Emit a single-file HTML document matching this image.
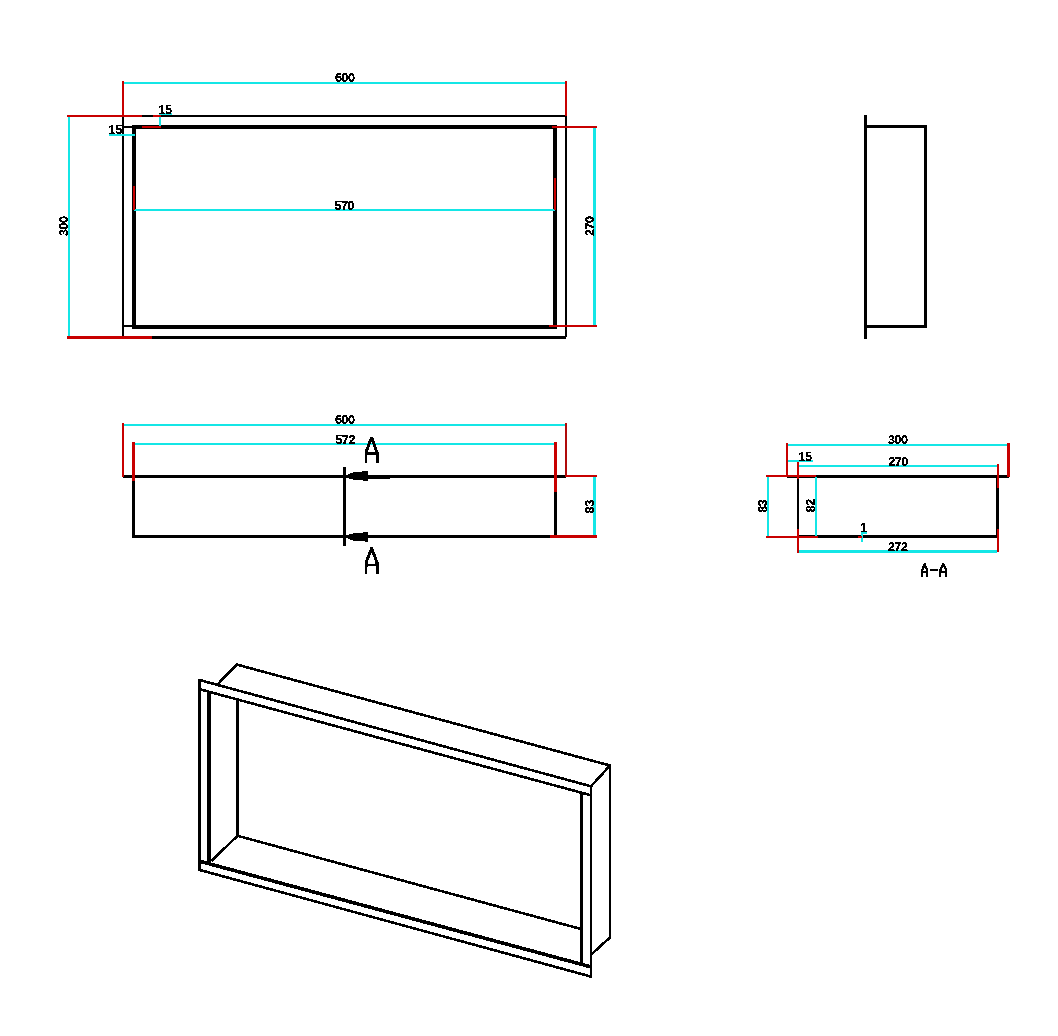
<!DOCTYPE html>
<html><head><meta charset="utf-8"><style>
html,body{margin:0;padding:0;background:#fff;width:1058px;height:1036px;overflow:hidden}
svg{display:block}
text{font-family:"Liberation Sans",sans-serif;font-weight:bold;font-size:12.5px;letter-spacing:-0.4px;fill:#000}
.k{stroke:#000;fill:none}
.r{stroke:#c80000;fill:none;stroke-width:2}
.c{stroke:#14e6e6;fill:none;stroke-width:2}
.ln{shape-rendering:crispEdges}
</style></head><body>
<svg width="1058" height="1036" viewBox="0 0 1058 1036">
<defs>
<filter id="bin" x="0" y="0" width="100%" height="100%" color-interpolation-filters="sRGB">
  <feComponentTransfer><feFuncA type="discrete" tableValues="0 1 1"/></feComponentTransfer>
</filter>
</defs>
<rect width="1058" height="1036" fill="#fff"/>

<g class="ln">
<!-- ============ FRONT VIEW ============ -->
<g class="k" stroke-width="2">
  <path d="M123,116 H566 V337 M123,116 V337"/>
  <path d="M123,127 H134 M123,326 H134 M555,127 H566 M555,326 H566"/>
</g>
<path class="k" stroke-width="2.5" d="M123,337.3 H566"/>
<path class="k" stroke-width="4" d="M134,127 H555 V327 H134 Z"/>
<g class="c">
  <path d="M123,83 H566"/>
  <path d="M69,116 V337.5"/>
  <path d="M594.5,127 V326" stroke-width="2.6"/>
  <path d="M134,210 H555"/>
  <path d="M159.5,113 V127"/>
  <path d="M158.5,113.5 H172"/>
  <path d="M109,134.5 H135"/>
</g>
<g class="r">
  <path d="M123,81 V116"/>
  <path d="M566,81 V116"/>
  <path d="M67,116 H142.3"/>
  <path d="M67,337.5 H152" stroke-width="2.6"/>
  <path d="M552,127 H597"/>
  <path d="M549,326 H597"/>
  <path d="M134,185.5 V210"/>
  <path d="M555,178 V210"/>
  <path d="M153,116 H160.5"/>
  <path d="M142,127 H160.5" stroke-width="1.6"/>
</g>

<!-- ============ SIDE VIEW ============ -->
<g class="k" stroke-width="2.6">
  <path d="M865.5,114.8 V338.7"/>
  <path d="M865.5,126.5 H925.5 V326.5 H865.5"/>
</g>

<!-- ============ TOP VIEW ============ -->
<g class="k" stroke-width="2.6">
  <path d="M123,476.5 H566"/>
  <path d="M133.5,476.5 V536.5 H555.5 V476.5"/>
</g>
<g class="c">
  <path d="M123,425 H566"/>
  <path d="M133.5,444 H555.5"/>
  <path d="M594.5,476.5 V536.5" stroke-width="2.4"/>
</g>
<g class="r">
  <path d="M123,423 V477"/>
  <path d="M133.5,442 V480.5" stroke-width="2.6"/>
  <path d="M566,423 V476.5" stroke="#b00a0a"/>
  <path d="M555.5,442.4 V491.8" stroke-width="2.6"/>
  <path d="M566,476 H596.8"/>
  <path d="M549.7,536.5 H596.8" stroke-width="2.6"/>
</g>
<!-- section line -->
<path class="k" stroke-width="2.6" d="M344.5,467.3 V545.6"/>
<path class="k" stroke-width="4" d="M367,476.5 H390"/>

<!-- ============ SECTION A-A ============ -->
<g class="k" stroke-width="2.6">
  <path d="M787,476.5 H1009"/>
  <path d="M798,476.5 V536.5 H997.5 V476.5"/>
</g>
<g class="c">
  <path d="M787,445 H1008"/>
  <path d="M788,461.3 H813"/>
  <path d="M798,466 H997"/>
  <path d="M768,476.3 V536.5"/>
  <path d="M816,477 V536.2"/>
  <path d="M798,551.6 H997" stroke-width="2.6"/>
  <path d="M862,531.3 V541.7 M861,532.5 H866.8"/>
</g>
<g class="r">
  <path d="M787,443.3 V477"/>
  <path d="M798,461.8 V478.5 M798,529 V552.5"/>
  <path d="M1008.5,443.2 V477" stroke-width="2.6"/>
  <path d="M998,463.9 V488.3 M998,528.5 V552.3"/>
  <path d="M766,476 H816.4"/>
  <path d="M766,537 H817.5"/>
  <path d="M858,536.5 H861.6"/>
</g>

<!-- ============ ISOMETRIC ============ -->
<g class="k" stroke-width="2.6" stroke-linejoin="round">
  <path d="M199.5,680 L591,786.3 L591,976.6 L199.5,869.9 Z"/>
  <path d="M199.5,689.2 L591,795.3"/>
  <path d="M217.3,684.6 L236.9,664.6 L610,765.5 L591,786.3"/>
  <path d="M610,765.5 V937.4 L591,954.7"/>
  <path d="M237.5,699.7 V835.8 L581,929 M237.5,835.8 L211.3,861.1"/>
</g>
<g class="k" stroke-width="3.6">
  <path d="M200,861.3 L591,966.9"/>
  <path d="M209,691.5 V863.5 M581.3,792.5 V965"/>
</g>
</g>

<!-- arrows & letters (binarized) -->
<g filter="url(#bin)">
<path d="M348,475 L350,473.3 L356,472.2 L367.8,470.9 L367.8,480.8 L356,479.7 L350,478.7 L348,477.8 Z" fill="#000"/>
<path d="M348,535.2 L350,534.3 L356,533.3 L367.8,532.2 L367.8,541.6 L356,540.8 L350,539.8 L348,538 Z" fill="#000"/>
<g class="k" stroke-width="2.6" stroke-linejoin="round">
  <path d="M366,463 V452 L371.6,437.5 L377.5,454 V463 M366,453.7 H377.5"/>
  <path d="M366,573.6 V562.4 L371.7,548.2 L377.6,564.3 V573.6 M366,565 H377.6"/>
</g>
<g class="k" stroke-width="1.9" stroke-linejoin="round">
  <path d="M922,576.7 V570.3 L924.8,564 L927,570.3 V576.7 M922,571.8 H927"/>
  <path d="M930.1,570 H937.7"/>
  <path d="M940.3,576.7 V570.3 L943,564 L946.3,570.3 V576.7 M940.3,571.8 H946.3"/>
</g>
</g>

<!-- text (binarized) -->
<g filter="url(#bin)">
<text x="335" y="82">600</text>
<text x="334.4" y="210">570</text>
<text x="158.5" y="113.5">15</text>
<text x="108.6" y="133.6">15</text>
<text transform="translate(68,236) rotate(-90)">300</text>
<text transform="translate(593.7,236) rotate(-90)">270</text>
<text x="335" y="423.7">600</text>
<text x="335.3" y="444.1">572</text>
<text transform="translate(594,513.4) rotate(-90)">83</text>
<text x="888" y="443.7">300</text>
<text x="798.5" y="460.7">15</text>
<text x="888.2" y="465.8">270</text>
<text x="887.9" y="551.2">272</text>
<text x="860.3" y="531.7">1</text>
<text transform="translate(766.6,512.8) rotate(-90)">83</text>
<text transform="translate(815,512.2) rotate(-90)">82</text>
</g>
</svg>
</body></html>
